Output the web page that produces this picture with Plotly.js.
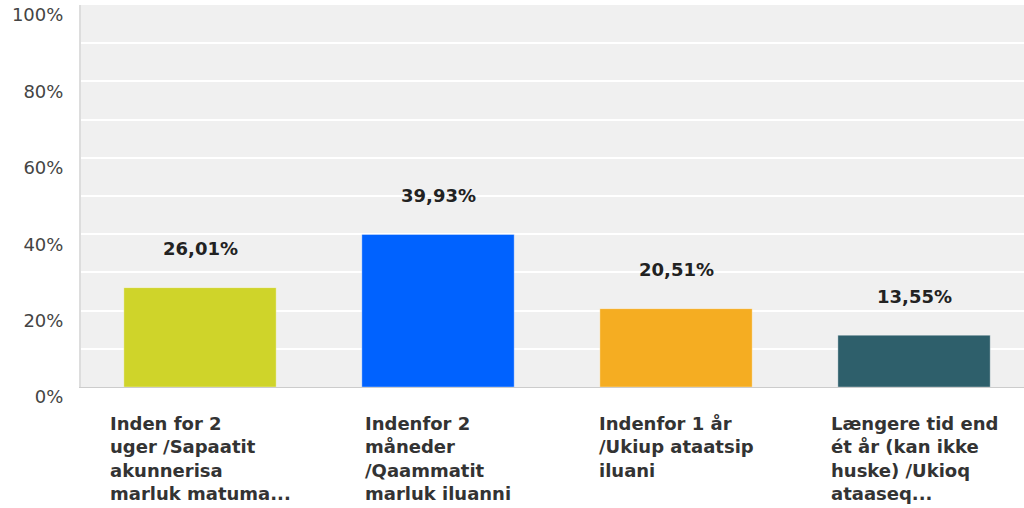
<!DOCTYPE html>
<html>
<head>
<meta charset="utf-8">
<script src="https://cdn.plot.ly/plotly-3.0.1.min.js"></script>
<style>html,body{margin:0;padding:0;background:#fff;overflow:hidden}</style>
</head>
<body>
<div id="chart" style="width:1024px;height:508px"></div>
<script>
const categories = [
  "Inden for 2<br>uger /Sapaatit<br>akunnerisa<br>marluk matuma...",
  "Indenfor 2<br>måneder<br>/Qaammatit<br>marluk iluanni",
  "Indenfor 1 år<br>/Ukiup ataatsip<br>iluani",
  "Længere tid end<br>ét år (kan ikke<br>huske) /Ukioq<br>ataaseq..."
];
const values = [0.2601, 0.3993, 0.2051, 0.1355];
const valueLabels = ["26,01%", "39,93%", "20,51%", "13,55%"];
const barColors = ["#cfd42a", "#0062ff", "#f5ad22", "#2e5f6b"];

const xIdx = categories.map((_, i) => i);

const trace = {
  type: "bar",
  x: xIdx,
  y: values,
  width: 0.64,
  marker: { color: barColors, line: { color: "rgba(255,255,255,0.35)", width: 1 } },
  hoverinfo: "skip"
};

const annotations = [];
xIdx.forEach((i) => {
  annotations.push({
    x: i, y: values[i], xref: "x", yref: "y",
    text: valueLabels[i], showarrow: false,
    yanchor: "middle", yshift: 39,
    font: { family: "DejaVu Sans", size: 18, color: "#222" , weight: "bold"}
  });
  annotations.push({
    x: i, y: 0, xref: "x", yref: "paper",
    text: categories[i], showarrow: false,
    xanchor: "center", yanchor: "top", align: "left", yshift: -24,
    font: { family: "DejaVu Sans", size: 18, color: "#333", weight: "bold" }
  });
});

const layout = {
  width: 1024, height: 508,
  margin: { l: 81, r: 0, t: 5, b: 121, pad: 0 },
  paper_bgcolor: "#ffffff",
  plot_bgcolor: "#f0f0f0",
  showlegend: false,
  bargap: 0,
  xaxis: {
    range: [-0.5, 3.462],
    showticklabels: false,
    showgrid: false, zeroline: false,
    showline: true, linecolor: "#cccccc", linewidth: 1,
    fixedrange: true
  },
  yaxis: {
    range: [0, 1],
    dtick: 0.2, tick0: 0,
    tickformat: ".0%",
    showgrid: true, gridcolor: "#ffffff", gridwidth: 2,
    minor: { dtick: 0.1, showgrid: true, gridcolor: "#ffffff", gridwidth: 2 },
    zeroline: false,
    showline: true, linecolor: "#dddddd", linewidth: 2,
    ticks: "", ticklabelstandoff: 12, ticklabelshift: 10,
    tickfont: { family: "DejaVu Sans", size: 18, color: "#444" },
    fixedrange: true
  },
  annotations: annotations
};

Plotly.newPlot("chart", [trace], layout, { displayModeBar: false, staticPlot: true });
</script>
</body>
</html>
